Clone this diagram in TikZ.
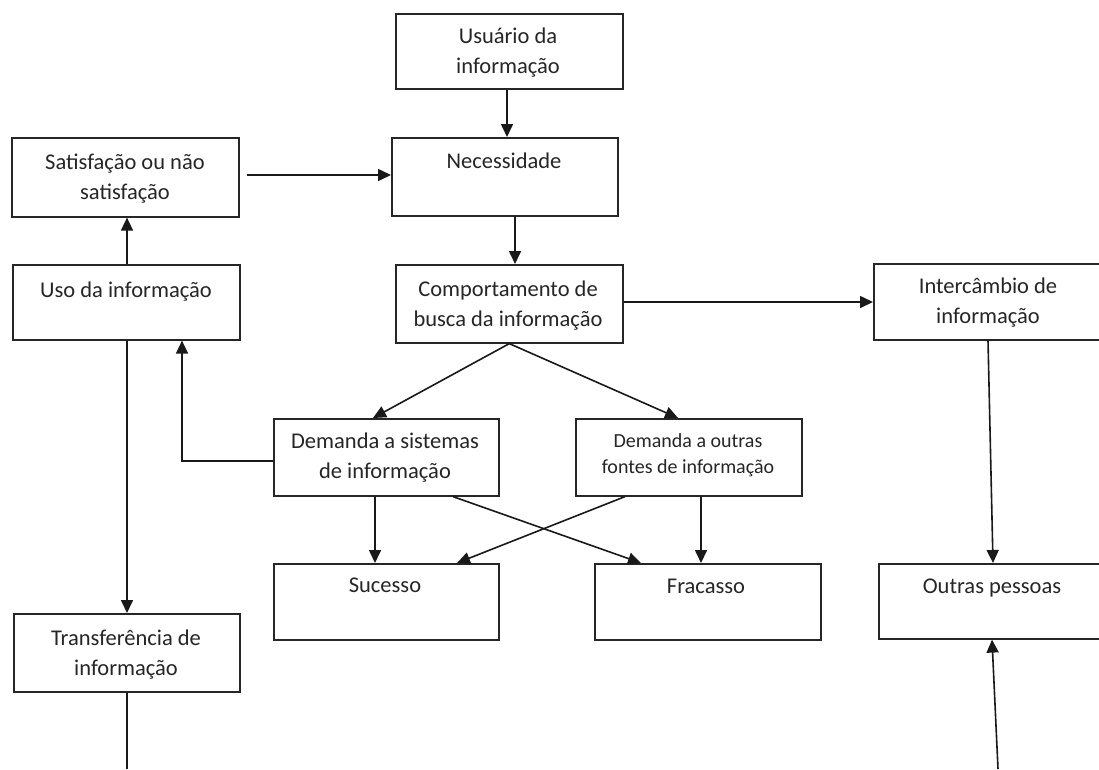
\documentclass[tikz,border=0pt]{standalone}
\usepackage{fontspec}
\setmainfont{Carlito}
\usetikzlibrary{arrows.meta}
\begin{document}
\begin{tikzpicture}[x=1pt,y=-1pt,
  box/.style={draw=black!85,line width=1.6pt,rectangle,inner sep=0pt,anchor=north west},
  txt/.style={anchor=base,inner sep=0pt,align=center,font=\fontsize{22.5}{30}\selectfont,text=black!85},
  stxt/.style={txt,font=\fontsize{20}{26}\selectfont},
  arr/.style={draw=black!90,line width=1.6pt,-{Triangle[width=12pt,length=13pt]}},
  ln/.style={draw=black!90,line width=1.6pt}]
\useasboundingbox (0,0) rectangle (1099,769);
\fill[white] (0,0) rectangle (1099,769);
\clip (0,0) rectangle (1099,769);
% boxes
\node[box,minimum width=227pt,minimum height=75pt] (usr) at (395,13) {};
\node[box,minimum width=226pt,minimum height=78pt] (nec) at (391,137) {};
\node[box,minimum width=227pt,minimum height=79pt] (sat) at (11,137) {};
\node[box,minimum width=227pt,minimum height=75pt] (uso) at (12,264) {};
\node[box,minimum width=227pt,minimum height=78pt] (comp) at (395,264) {};
\node[box,minimum width=232pt,minimum height=76pt] (int) at (873,263) {};
\node[box,minimum width=225pt,minimum height=77pt] (dsis) at (273,418) {};
\node[box,minimum width=226pt,minimum height=77pt] (dout) at (575,418) {};
\node[box,minimum width=225pt,minimum height=76pt] (suc) at (273,563) {};
\node[box,minimum width=226pt,minimum height=76pt] (fra) at (594,563) {};
\node[box,minimum width=230pt,minimum height=75pt] (out) at (878,563) {};
\node[box,minimum width=226pt,minimum height=78pt] (tra) at (13,613) {};
% texts (anchor base = baseline of last line)
\node[txt] (tusr) at (508,73) {Usuário da\\informação};
\node[txt] (tnec) at (504,168) {Necessidade};
\node[txt] (tsat) at (125,199) {Satisfação ou não\\satisfação};
\node[txt] (tuso) at (126,297) {Uso da informação};
\node[txt] (tcomp) at (508,326) {Comportamento de\\busca da informação};
\node[txt] (tint) at (988,323) {Intercâmbio de\\informação};
\node[txt] (tdsis) at (385,478) {Demanda a sistemas\\de informação};
\node[stxt] (tdout) at (688,473) {Demanda a outras\\fontes de informação};
\node[txt] (tsuc) at (385,592) {Sucesso};
\node[txt] (tfra) at (706,593) {Fracasso};
\node[txt] (tout) at (992,593) {Outras pessoas};
\node[txt] (ttra) at (126,675) {Transferência de\\informação};
% free ends
\coordinate (satout) at (247,175);
\coordinate (bl) at (127,769);
\coordinate (br) at (998,769);
% connectors
\draw[arr] (507,0 |- usr.south) -- (507,0 |- nec.north);
\draw[arr] (satout) -- (satout -| nec.west);
\draw[arr] (515,0 |- nec.south) -- (515,0 |- comp.north);
\draw[arr] (127,0 |- uso.north) -- (127,0 |- sat.south);
\draw[arr] (comp.east |- 0,302) -- (int.west |- 0,302);
\draw[arr] (comp.south) -- (373,0 |- dsis.north);
\draw[arr] (comp.south) -- (678,0 |- dout.north);
\draw[arr] (dsis.west |- 0,461) -- (182,461) -- (182,0 |- uso.south);
\draw[arr] (127,0 |- uso.south) -- (127,0 |- tra.north);
\draw[ln] (127,0 |- tra.south) -- (bl);
\draw[arr] (375,0 |- dsis.south) -- (375,0 |- suc.north);
\draw[arr] (453,0 |- dsis.south) -- (641,0 |- fra.north);
\draw[arr] (625,0 |- dout.south) -- (457,0 |- suc.north);
\draw[arr] (701,0 |- dout.south) -- (701,0 |- fra.north);
\draw[arr] (988,0 |- int.south) -- (993,0 |- out.north);
\draw[arr] (br) -- (992,0 |- out.south);
\end{tikzpicture}
\end{document}
